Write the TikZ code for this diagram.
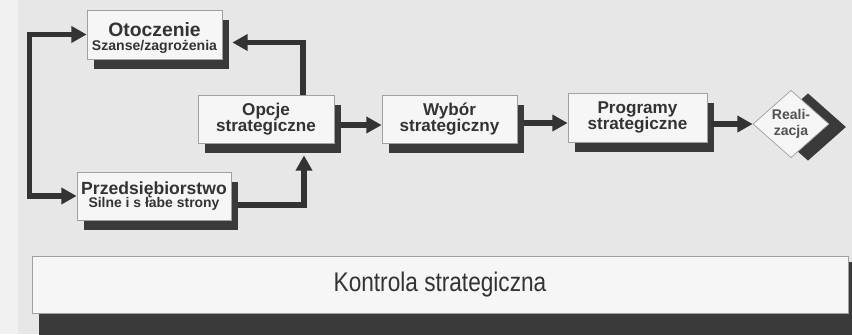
\documentclass[tikz,border=0pt]{standalone}
\usepackage{fontspec}
\setmainfont{Liberation Sans}
\newfontfamily\narrowfont{Liberation Sans}[FakeStretch=0.84]
\usetikzlibrary{arrows.meta,shapes.geometric,shadows}

\definecolor{paper}{HTML}{E7E7E7}
\definecolor{margin}{HTML}{F1F1F1}
\definecolor{boxfill}{HTML}{F6F6F6}
\definecolor{boxline}{HTML}{A0A0A0}
\definecolor{ink}{HTML}{333333}
\definecolor{shade}{HTML}{3A3A3A}

% font size with a fixed line pitch
\newcommand{\fsz}[2]{\fontsize{#1}{#2}\selectfont\lineskiplimit=-20pt\relax}

\tikzset{
  flowtip/.tip={Triangle[length=0.46cm,width=0.48cm]},
  stage/.style={draw=boxline, line width=0.6pt, fill=boxfill, text=ink,
    align=center, inner sep=0pt, minimum height=1.44cm,
    font=\bfseries\fsz{14.6}{13.7pt},
    drop shadow={fill=shade, opacity=1, shadow xshift=0.21cm, shadow yshift=-0.30cm}},
  flow/.style={draw=ink, line width=0.165cm},
}

\begin{document}
\begin{tikzpicture}[x=0.03cm, y=-0.03cm]
  \path[use as bounding box] (0,0) rectangle (852,334);
  \clip (0,0) rectangle (852,334);

  % paper
  \fill[paper] (0,0) rectangle (852,334);
  \fill[margin] (0,0) rectangle (18,334);

  % stages of the process
  \node[stage, minimum width=4.05cm, minimum height=1.47cm, font=\bfseries\fsz{16.5}{12.2pt}]
    (ot) at (154.5,34.5)
    {\rule{0pt}{18pt}Otoczenie\\{\fsz{12}{12.2pt}Szanse/zagrożenia}};
  \node[stage, minimum width=4.62cm, font=\bfseries\fsz{15}{11.6pt}] (pz) at (154,196)
    {Przedsiębiorstwo\\{\fsz{11.9}{11.6pt}Silne i s łabe strony}};
  \node[stage, minimum width=4.08cm] (op) at (266,119) {Opcje\\strategiczne};
  \node[stage, minimum width=4.05cm] (wy) at (449.5,119) {Wybór\\strategiczny};
  \node[stage, minimum width=4.17cm, minimum height=1.47cm] (pr) at (637.5,117.5) {Programy\\strategiczne};
  \node[diamond, draw=boxline, line width=0.6pt, fill=boxfill, text=ink!85,
    minimum width=2.28cm, minimum height=1.92cm, inner sep=0pt, align=center,
    font=\bfseries\fsz{12}{13.7pt},
    drop shadow={fill=shade, opacity=1, shadow xshift=0.51cm, shadow yshift=-0.09cm}]
    (re) at (791,124) {Reali-\\zacja};

  % control band, its shadow running off the page
  \node[draw=boxline, line width=0.6pt, fill=boxfill, text=ink, inner sep=0pt,
    minimum width=24.48cm, minimum height=1.71cm,
    font=\narrowfont\fontsize{23}{23}\selectfont,
    general shadow={fill=shade, shadow xshift=0.21cm, shadow yshift=-0.18cm},
    general shadow={fill=shade, shadow xshift=0.21cm, shadow yshift=-0.66cm}]
    (ko) at (440,284.5) {Kontrola strategiczna};

  % connectors
  \draw[flow, flowtip-flowtip] (ot.west) -- ++(-57,0) |- (pz.west);
  \draw[flow, -flowtip] ([shift={(37,0)}]op.north) |- ([shift={(10,8)}]ot.east);
  \draw[flow, -flowtip] ([shift={(7,9)}]pz.east) -| ([shift={(38,12)}]op.south);
  \draw[flow, -flowtip] ([shift={(7,6)}]op.east) -- ([shift={(0,6)}]wy.west);
  \draw[flow, -flowtip] ([shift={(7,4)}]wy.east) -- ([shift={(0,5.5)}]pr.west);
  \draw[flow, -flowtip] ([shift={(4,6.5)}]pr.east) -- (re.west);
\end{tikzpicture}
\end{document}
